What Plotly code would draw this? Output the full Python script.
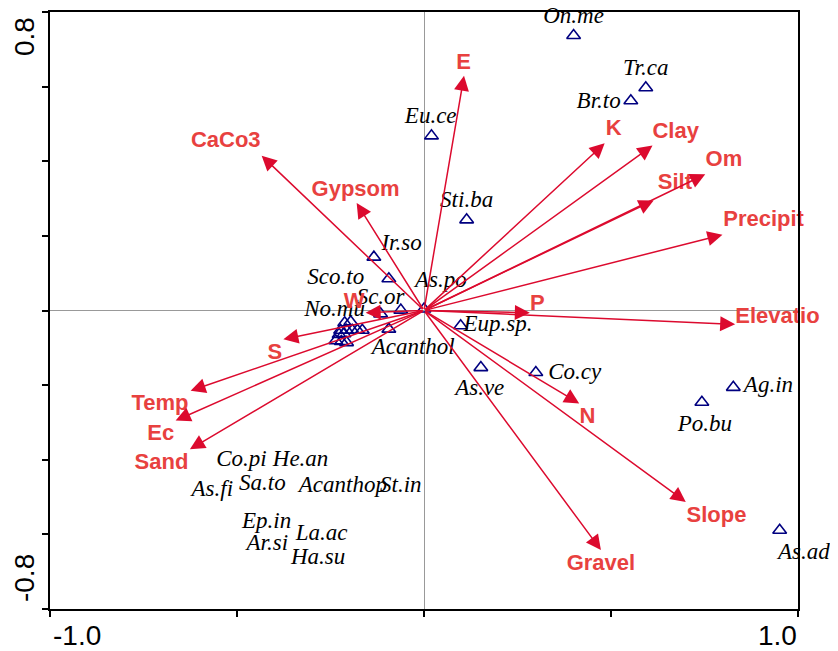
import plotly.graph_objects as go

# ---------------- data ----------------
# species points (triangles)
species_x = [0.400, 0.593, 0.553, 0.020, 0.114, -0.134, -0.094, -0.116, -0.062, -0.094,
             0.000, 0.098, 0.152, 0.299, 0.827, 0.743, 0.951,
             -0.212, -0.196, -0.223, -0.207, -0.192, -0.178, -0.165, -0.227, -0.214,
             -0.236, -0.221, -0.207]
species_y = [0.737, 0.597, 0.562, 0.468, 0.243, 0.143, 0.085, -0.009, 0.001, -0.050,
             0.004, -0.041, -0.153, -0.166, -0.206, -0.246, -0.589,
             -0.033, -0.030, -0.053, -0.053, -0.053, -0.053, -0.053, -0.064, -0.062,
             -0.081, -0.083, -0.086]

# species labels and their label positions
species_names = ["On.me", "Tr.ca", "Br.to", "Eu.ce", "Sti.ba", "Ir.so", "Sco.to", "As.po",
                 "Sc.or", "No.mu", "Acanthol", "Eup.sp.", "As.ve", "Co.cy", "Ag.in", "Po.bu",
                 "As.ad", "Co.pi", "He.an", "As.fi", "Sa.to", "Acanthop", "St.in", "Ep.in",
                 "Ar.si", "La.ac", "Ha.su"]
label_x = [0.400, 0.593, 0.467, 0.018, 0.114, -0.060, -0.236, 0.045,
           -0.116, -0.239, -0.029, 0.198, 0.149, 0.403, 0.921, 0.751,
           1.014, -0.488, -0.330, -0.566, -0.432, -0.217, -0.062, -0.421,
           -0.419, -0.274, -0.283]
label_y = [0.786, 0.647, 0.559, 0.517, 0.292, 0.178, 0.087, 0.079,
           0.033, 0.001, -0.100, -0.039, -0.212, -0.167, -0.202, -0.308,
           -0.645, -0.402, -0.402, -0.482, -0.466, -0.471, -0.471, -0.567,
           -0.626, -0.599, -0.663]

# environmental variables (arrow tips) and label positions
env_names = ["E", "K", "Clay", "Om", "Silt", "Precipit", "P", "Elevatio", "N", "Slope",
             "Gravel", "Sand", "Ec", "Temp", "S", "W", "Gypsom", "CaCo3"]
env_x = [0.107, 0.483, 0.611, 0.752, 0.614, 0.798, 0.283, 0.832, 0.415, 0.700,
         0.473, -0.626, -0.664, -0.624, -0.376, -0.156, -0.180, -0.434]
env_y = [0.629, 0.448, 0.442, 0.365, 0.295, 0.203, -0.006, -0.037, -0.249, -0.513,
         -0.642, -0.372, -0.295, -0.215, -0.077, -0.006, 0.288, 0.415]
env_label_x = [0.106, 0.507, 0.673, 0.802, 0.671, 0.908, 0.303, 0.945, 0.437, 0.782,
               0.473, -0.702, -0.704, -0.706, -0.399, -0.187, -0.183, -0.530]
env_label_y = [0.663, 0.485, 0.477, 0.403, 0.341, 0.241, 0.017, -0.019, -0.288, -0.553,
               -0.682, -0.411, -0.333, -0.253, -0.115, 0.021, 0.322, 0.452]

# axis end labels
x_tick_vals = [-0.929, 0.945]
x_tick_text = ["-1.0", "1.0"]
y_tick_vals = [0.733, -0.717]
y_tick_text = ["0.8", "-0.8"]

X_RANGE = [-1.0, 1.0]
Y_RANGE = [-0.8, 0.8]

# ---------------- styles ----------------
ARROW_COLOR = "#DC0A2E"
ENV_TEXT_COLOR = "#E8413F"
TRI_COLOR = "#000080"
SPECIES_FONT = dict(family="Liberation Serif", size=23, color="black", style="italic")

fig = go.Figure()

fig.add_trace(go.Scatter(
    x=species_x, y=species_y, mode="markers",
    marker=dict(symbol="triangle-up-open", size=12, color=TRI_COLOR,
                line=dict(width=1.6, color=TRI_COLOR)),
    hoverinfo="skip", showlegend=False, cliponaxis=False))

# labels inside the axis range go in a text trace; ones outside become paper-referenced annotations
in_range = [X_RANGE[0] <= lx <= X_RANGE[1] and Y_RANGE[0] <= ly <= Y_RANGE[1]
            for lx, ly in zip(label_x, label_y)]
fig.add_trace(go.Scatter(
    x=[lx for lx, ok in zip(label_x, in_range) if ok],
    y=[ly for ly, ok in zip(label_y, in_range) if ok],
    text=[n for n, ok in zip(species_names, in_range) if ok],
    mode="text", textposition="middle center", textfont=SPECIES_FONT,
    hoverinfo="skip", showlegend=False, cliponaxis=False))

fig.add_trace(go.Scatter(
    x=env_label_x, y=env_label_y, mode="text", text=env_names,
    textposition="middle center",
    textfont=dict(family="Liberation Sans", size=22, color=ENV_TEXT_COLOR, weight="bold"),
    hoverinfo="skip", showlegend=False, cliponaxis=False))

annotations = []
for n, lx, ly, ok in zip(species_names, label_x, label_y, in_range):
    if not ok:
        annotations.append(dict(
            x=(lx - X_RANGE[0]) / (X_RANGE[1] - X_RANGE[0]),
            y=(ly - Y_RANGE[0]) / (Y_RANGE[1] - Y_RANGE[0]),
            xref="paper", yref="paper", text=n, showarrow=False,
            xanchor="center", yanchor="middle", font=SPECIES_FONT))

for ex, ey in zip(env_x, env_y):
    annotations.append(dict(
        x=ex, y=ey, ax=0, ay=0, xref="x", yref="y", axref="x", ayref="y",
        text="", showarrow=True, arrowhead=2, arrowsize=2.0, arrowwidth=1.5,
        arrowcolor=ARROW_COLOR, standoff=0, startstandoff=0))

for v, t in zip(x_tick_vals, x_tick_text):
    annotations.append(dict(
        x=v, y=0, xref="x", yref="paper", yshift=-26, text=t, showarrow=False,
        xanchor="center", yanchor="middle",
        font=dict(family="Liberation Sans", size=28, color="black")))
for v, t in zip(y_tick_vals, y_tick_text):
    annotations.append(dict(
        x=0, y=v, xref="paper", yref="y", xshift=-26, text=t, showarrow=False,
        textangle=-90, xanchor="center", yanchor="middle",
        font=dict(family="Liberation Sans", size=28, color="black")))

# page body has an 8px margin; the figure is sized so the plot lands where the reference has it
fig.update_layout(
    width=830, height=643,
    margin=dict(l=42, r=40, t=2, b=42),
    paper_bgcolor="white", plot_bgcolor="white",
    annotations=annotations,
    showlegend=False,
)
fig.update_xaxes(
    range=X_RANGE, tickvals=[-1.0, -0.5, 0, 0.5, 1.0], showticklabels=False,
    ticks="outside", ticklen=6, tickwidth=1.5, tickcolor="black",
    showline=True, linecolor="black", linewidth=1.5, mirror=True,
    showgrid=False, zeroline=True, zerolinecolor="#999999", zerolinewidth=1)
fig.update_yaxes(
    range=Y_RANGE, tickvals=[-0.8, -0.6, -0.4, -0.2, 0, 0.2, 0.4, 0.6, 0.8],
    showticklabels=False,
    ticks="outside", ticklen=6, tickwidth=1.5, tickcolor="black",
    showline=True, linecolor="black", linewidth=1.5, mirror=True,
    showgrid=False, zeroline=True, zerolinecolor="#999999", zerolinewidth=1)

fig.write_html("out.html")
